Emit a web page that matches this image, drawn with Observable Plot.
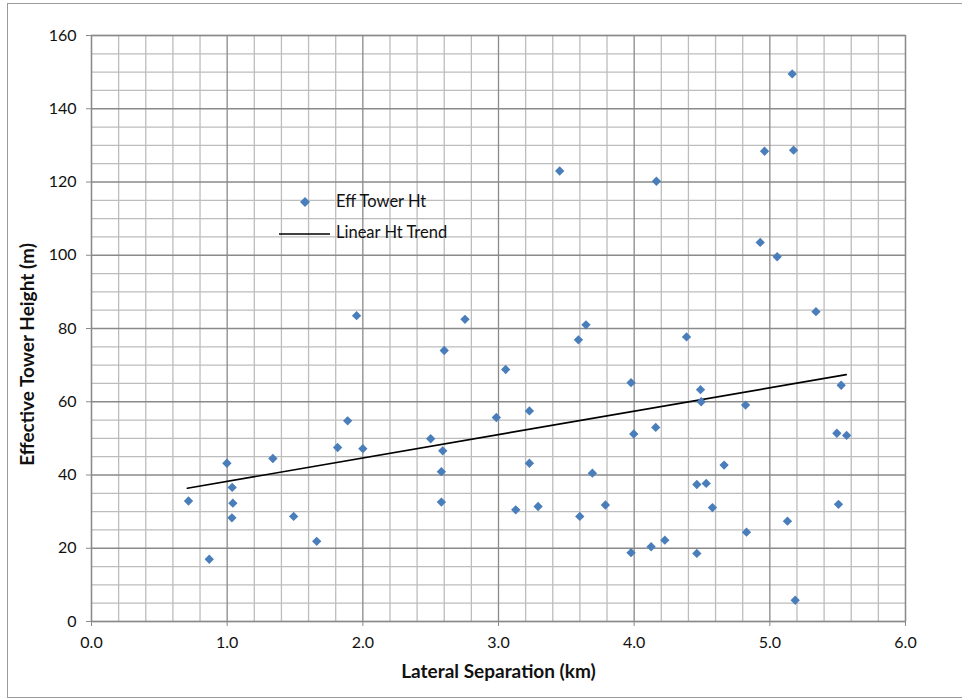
<!DOCTYPE html>
<html>
<head>
<meta charset="utf-8">
<script src="https://cdn.jsdelivr.net/npm/d3@7"></script>
<script src="https://cdn.jsdelivr.net/npm/@observablehq/plot@0.6"></script>
<style>
  body { margin: 0; background: #fff; }
  #wrap { position: relative; width: 962px; height: 700px; font-family: Lato, "Open Sans", sans-serif; overflow: hidden; }
  #border { position: absolute; left: 7px; top: 3px; width: 970px; height: 695px; border: 1px solid #9a9a9a; box-sizing: border-box; pointer-events: none; }
  #legend { position: absolute; left: 276px; top: 190px; font-size: 16.5px; color: #111; }
  .lrow { position: absolute; white-space: nowrap; }
</style>
</head>
<body>
<div id="wrap">
  <div id="chart"></div>
  <div id="border"></div>
  <div id="legend">
    <div class="lrow" style="left:0; top:0;">
      <svg width="58" height="24" style="vertical-align:middle"><path d="M29,7 L34,12 L29,17 L24,12 Z" fill="#4A7EBB"/></svg><span style="position:relative; top:1px; margin-left:2px">Eff Tower Ht</span>
    </div>
    <div class="lrow" style="left:0; top:32px;">
      <svg width="58" height="24" style="vertical-align:middle"><line x1="3" x2="54" y1="12" y2="12" stroke="#000" stroke-width="1.5"/></svg><span style="position:relative; top:0px; margin-left:2px">Linear Ht Trend</span>
    </div>
  </div>
</div>
<script>
// Data
const sepKm = [0.715, 0.868, 0.998, 1.037, 1.042, 1.035, 1.337, 1.49, 1.66, 1.814,
  1.888, 2.0, 1.954, 2.50, 2.589, 2.579, 2.579, 2.60, 2.753, 2.984,
  3.053, 3.127, 3.228, 3.228, 3.292, 3.451, 3.589, 3.599, 3.645, 3.692,
  3.788, 3.977, 3.997, 3.977, 4.125, 4.159, 4.164, 4.226, 4.386, 4.462,
  4.462, 4.489, 4.494, 4.531, 4.577, 4.663, 4.821, 4.828, 4.929, 4.961,
  5.054, 5.13, 5.165, 5.175, 5.187, 5.34, 5.494, 5.506, 5.526, 5.566];
const effHt = [32.9, 17.0, 43.2, 36.6, 32.3, 28.3, 44.5, 28.7, 21.9, 47.5,
  54.8, 47.2, 83.5, 49.9, 46.6, 40.9, 32.6, 74.0, 82.5, 55.7,
  68.8, 30.5, 57.5, 43.2, 31.4, 123.0, 76.9, 28.7, 81.0, 40.5,
  31.8, 65.2, 51.2, 18.8, 20.4, 53.0, 120.2, 22.2, 77.7, 37.4,
  18.6, 63.3, 60.0, 37.7, 31.1, 42.7, 59.1, 24.4, 103.5, 128.4,
  99.6, 27.4, 149.5, 128.7, 5.8, 84.6, 51.4, 32.0, 64.5, 50.8];
// Linear trend line endpoints
const trendX = [0.706, 5.563];
const trendY = [36.4, 67.4];
// Tick values
const xMajor = [0, 1, 2, 3, 4, 5, 6];
const xMinor = [0.2, 0.4, 0.6, 0.8, 1.2, 1.4, 1.6, 1.8, 2.2, 2.4, 2.6, 2.8, 3.2, 3.4, 3.6, 3.8, 4.2, 4.4, 4.6, 4.8, 5.2, 5.4, 5.6, 5.8];
const yMajor = [0, 20, 40, 60, 80, 100, 120, 140, 160];
const yMinor = [5, 10, 15, 25, 30, 35, 45, 50, 55, 65, 70, 75, 85, 90, 95, 105, 110, 115, 125, 130, 135, 145, 150, 155];

const points = sepKm.map((x, i) => ({x, y: effHt[i]}));
const trend = trendX.map((x, i) => ({x, y: trendY[i]}));

const chart = Plot.plot({
  width: 962,
  height: 700,
  marginLeft: 91,
  marginRight: 57,
  marginTop: 35,
  marginBottom: 79,
  style: {fontFamily: "Lato, 'Open Sans', sans-serif", fontSize: "16px", color: "#111", background: "transparent"},
  x: {domain: [0, 6]},
  y: {domain: [0, 160]},
  marks: [
    Plot.ruleX(xMinor, {stroke: "#bdbdbd", strokeWidth: 1.3}),
    Plot.ruleY(yMinor, {stroke: "#bdbdbd", strokeWidth: 1.3}),
    Plot.ruleX(xMajor, {stroke: "#8a8a8a", strokeWidth: 1.3}),
    Plot.ruleY(yMajor, {stroke: "#8a8a8a", strokeWidth: 1.3}),
    Plot.frame({stroke: "#8a8a8a", strokeWidth: 1.3}),
    Plot.axisX({ticks: xMajor, tickFormat: d => d.toFixed(1), tickSize: 5, tickPadding: 10, stroke: "#8a8a8a", label: null}),
    Plot.axisY({ticks: yMajor, tickFormat: d => String(d), tickSize: 5, tickPadding: 10, stroke: "#8a8a8a", label: null}),
    Plot.text(["Lateral Separation (km)"], {frameAnchor: "bottom", textAnchor: "middle", lineAnchor: "middle", dy: 50, fontWeight: "bold", fontSize: 19, fill: "#111"}),
    Plot.text(["Effective Tower Height (m)"], {frameAnchor: "left", textAnchor: "middle", lineAnchor: "middle", dx: -64, dy: 26, rotate: -90, fontWeight: "bold", fontSize: 19, fill: "#111"}),
    Plot.line(trend, {x: "x", y: "y", stroke: "#000", strokeWidth: 1.6}),
    Plot.dot(points, {x: "x", y: "y", symbol: "diamond2", r: 4.2, fill: "#4A7EBB", stroke: "none"})
  ]
});
document.getElementById("chart").appendChild(chart);
</script>
</body>
</html>
